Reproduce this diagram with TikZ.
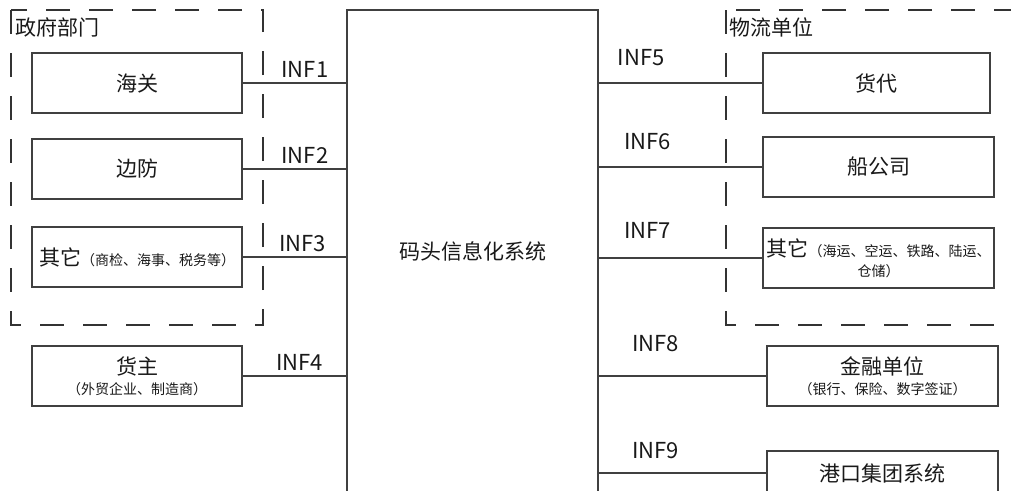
\documentclass[tikz,border=0pt]{standalone}
\usepackage{fontspec}
\newfontfamily\cjk{Noto Sans CJK SC}
\usetikzlibrary{positioning}
\tikzset{
  unitbox/.style={draw=black!75, line width=1.3pt, fill=white, text=black!90, minimum width=210pt, minimum height=60pt, inner sep=0pt, font=\cjk\fontsize{21}{23}\selectfont, align=center},
  grouparea/.style={draw=black!80, line width=2pt, dash pattern=on 24pt off 19pt},
  link/.style={draw=black!75, line width=1.3pt},
  inflabel/.style={font=\cjk\fontsize{22}{24}\selectfont, text=black!90, inner sep=0pt},
}
\newcommand{\smalltxt}[1]{{\fontsize{14}{16}\selectfont #1}}

\begin{document}
\begin{tikzpicture}[x=1pt,y=-1pt]
    \clip (0,0) rectangle (1011,490);

    % Terminal system
    \node[unitbox, minimum width=251pt, minimum height=520pt] (sys) at (472.5,270) {\raisebox{11pt}[0pt][0pt]{码头信息化系统}};

    % Government departments
    \draw[grouparea] (11,10) rectangle (263,325);
    \node[inflabel, anchor=west, font=\cjk\fontsize{21}{23}\selectfont] (govtitle) at (15,27) {政府部门};
    \node[unitbox] (customs) at (137,83) {海关};
    \node[unitbox] (border) at (137,169) {边防};
    \node[unitbox] (govother) at (137,257) {其它\smalltxt{（商检、海事、税务等）}};

    % Cargo owner
    \node[unitbox] (owner) at (137,376) {货主\\[-3pt]\smalltxt{（外贸企业、制造商）}};

    % Logistics units
    \draw[grouparea] (726,10) rectangle (1030,325);
    \node[inflabel, anchor=west, font=\cjk\fontsize{21}{23}\selectfont] (logtitle) at (729,27) {物流单位};
    \node[unitbox, minimum width=227pt] (forwarder) at (876.5,83) {货代};
    \node[unitbox, minimum width=231pt] (shipping) at (878.5,167) {船公司};
    \node[unitbox, minimum width=231pt] (logother) at (878.5,258) {其它\smalltxt{（海运、空运、铁路、陆运、}\\[-3pt]\smalltxt{仓储）}};

    % Finance and port group
    \node[unitbox, minimum width=231pt] (finance) at (882.5,376) {金融单位\\[-3pt]\smalltxt{（银行、保险、数字签证）}};
    \node[unitbox, minimum width=231pt, minimum height=44pt] (portgroup) at (882.5,473) {港口集团系统};

    % Interfaces
    \foreach \b/\t/\p in {customs/INF1/0.6, border/INF2/0.6, govother/INF3/0.58, owner/INF4/0.55}
        \draw[link] (\b.east) -- node[inflabel, above=5pt, pos=\p] {\t} (\b.east -| sys.west);
    \foreach \b/\t/\p/\r in {forwarder/INF5/0.26/17pt, shipping/INF6/0.3/17pt, logother/INF7/0.3/19pt, finance/INF8/0.34/24pt, portgroup/INF9/0.34/14pt}
        \draw[link] (sys.east |- \b.west) -- node[inflabel, above=\r, pos=\p] {\t} (\b.west);
\end{tikzpicture}
\end{document}
